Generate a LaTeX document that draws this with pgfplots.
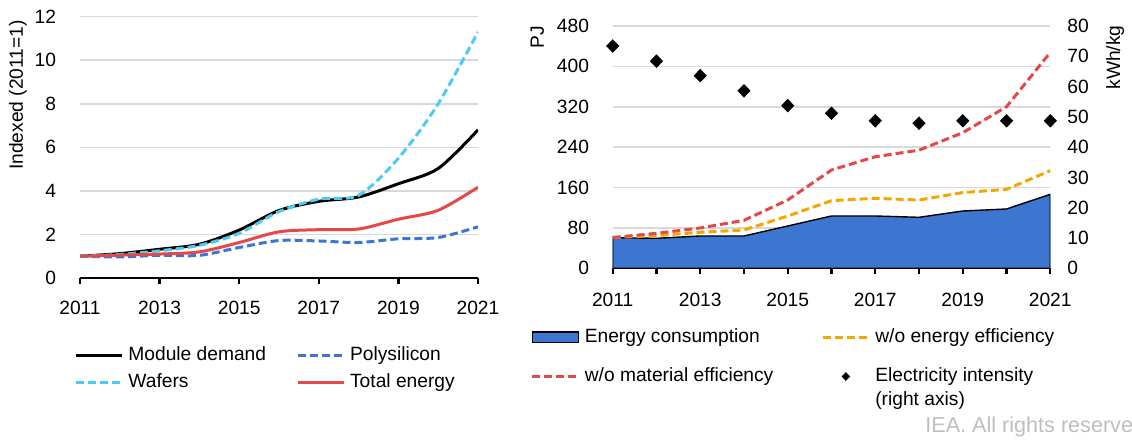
\documentclass[border=0pt]{standalone}
\usepackage{fontspec}
\setmainfont{Liberation Sans}
\usepackage{pgfplots}
\pgfplotsset{compat=1.18}

\definecolor{cPoly}{RGB}{58,118,214}
\definecolor{cWaf}{RGB}{78,203,245}
\definecolor{cRed}{RGB}{228,72,72}
\definecolor{cOrange}{RGB}{242,168,0}
\definecolor{cArea}{RGB}{60,118,208}
\definecolor{cGrid}{RGB}{217,217,217}
\definecolor{cIEA}{RGB}{190,190,190}

\newcommand{\ff}{\fontsize{9.6}{11.5}\selectfont}

\pgfplotsset{
  common/.style={
    scale only axis,
    axis x line*=bottom, axis y line*=left,
    x axis line style={-, line width=1.2pt, black},
    y axis line style={draw=none},
    ytick style={draw=none},
    xtick style={black, line width=1.2pt},
    tick align=outside, major tick length=2.8pt,
    ymajorgrids, grid style={cGrid, line width=0.8pt},
    /pgf/number format/assume math mode=true,
    tick label style={font=\ff},
    xticklabel style={/pgf/number format/1000 sep=, anchor=north, inner sep=0pt},
    yticklabel style={anchor=east, inner sep=0pt},
    legend cell align=left,
    legend image code/.code={\draw[##1] (0pt,0pt) -- (23pt,0pt);},
  },
  arealeg/.style={legend image code/.code={\draw[##1] (0pt,-2.65pt) rectangle (23pt,2.65pt);}},
  diamleg/.style={legend image code/.code={\draw[##1] plot coordinates {(11.5pt,0pt)};}},
  sline/.style={line width=1.5pt},
  dline/.style={line width=1.5pt, dash pattern=on 4pt off 2pt},
}

\begin{document}
\begin{tikzpicture}[font=\ff]
\path[use as bounding box] (0,0) rectangle (566pt,222pt);

% ---------------- left chart ----------------
\begin{axis}[
  common,
  at={(40pt,83pt)}, anchor=south west,
  width=199pt, height=130.65pt,
  xmin=2011, xmax=2021, ymin=0, ymax=12,
  xtick={2011,2013,...,2021}, ytick={0,2,...,12},
  xticklabel style={yshift=-8.7pt},
  yticklabel style={xshift=-9pt},
  every axis y label/.style={at={(rel axis cs:-0.156,0.70)}, anchor=center, rotate=90, font=\ff},
  ylabel={Indexed (2011=1)},
  legend columns=2,
  legend style={at={(rel axis cs:-0.015,-0.26)}, anchor=north west, draw=none, fill=none,
    inner sep=0pt, font=\ff, row sep=4.35pt,
    /tikz/every even column/.append style={column sep=12.5pt},
    nodes={inner xsep=2.5pt, inner ysep=0pt, text height=7pt, text depth=2pt, anchor=west}},
]
\addplot[sline, black, smooth] coordinates {(2011,1.0)(2012,1.12)(2013,1.32)(2014,1.55)(2015,2.2)(2016,3.1)(2017,3.52)(2018,3.72)(2019,4.33)(2020,5.03)(2021,6.8)};
\addlegendentry{Module demand}
\addplot[dline, cPoly, smooth] coordinates {(2011,1.0)(2012,0.97)(2013,1.04)(2014,1.04)(2015,1.4)(2016,1.72)(2017,1.7)(2018,1.63)(2019,1.8)(2020,1.86)(2021,2.35)};
\addlegendentry{Polysilicon}
\addplot[dline, cWaf, smooth] coordinates {(2011,1.0)(2012,1.08)(2013,1.25)(2014,1.5)(2015,2.05)(2016,3.05)(2017,3.62)(2018,3.8)(2019,5.5)(2020,8.0)(2021,11.3)};
\addlegendentry{Wafers}
\addplot[sline, cRed, smooth] coordinates {(2011,1.0)(2012,1.05)(2013,1.1)(2014,1.2)(2015,1.63)(2016,2.12)(2017,2.22)(2018,2.25)(2019,2.7)(2020,3.11)(2021,4.17)};
\addlegendentry{Total energy}
\end{axis}

% ---------------- right chart (left axis) ----------------
\begin{axis}[
  common,
  at={(306.35pt,87.85pt)}, anchor=south west,
  width=218.8pt, height=121.15pt,
  xmin=2011, xmax=2021, ymin=0, ymax=480,
  xtick={2011,2012,...,2021},
  xticklabels={2011,,2013,,2015,,2017,,2019,,2021},
  ytick={0,80,...,480},
  xticklabel style={yshift=-9.5pt},
  yticklabel style={xshift=-8.85pt},
  every axis y label/.style={at={(rel axis cs:-0.172,0.955)}, anchor=center, rotate=90, font=\ff},
  ylabel={PJ},
  legend columns=2,
  legend style={at={(rel axis cs:-0.188,-0.246)}, anchor=north west, draw=none, fill=none,
    inner sep=0pt, font=\ff, row sep=10.6pt,
    /tikz/every even column/.append style={column sep=21.5pt},
    nodes={inner xsep=2.5pt, inner ysep=0pt, text height=7pt, text depth=2pt, anchor=west}},
]
\addplot[fill=cArea, draw=black, line width=0.7pt, arealeg]
  coordinates {(2011,60.7)(2012,59.4)(2013,64)(2014,64)(2015,83.8)(2016,103.6)(2017,103.6)(2018,101)(2019,113.5)(2020,117.5)(2021,146.5)} \closedcycle;
\addlegendentry{Energy consumption}
\addplot[dline, cOrange] coordinates {(2011,61)(2012,64.7)(2013,71.3)(2014,75.9)(2015,103.6)(2016,134)(2017,138.6)(2018,135.3)(2019,150)(2020,156.4)(2021,193.4)};
\addlegendentry{w/o energy efficiency}
\addplot[dline, cRed] coordinates {(2011,61)(2012,69.3)(2013,79.9)(2014,95)(2015,135.3)(2016,194.7)(2017,221)(2018,234)(2019,268.6)(2020,320)(2021,427.7)};
\addlegendentry{w/o material efficiency}
\addlegendimage{only marks, mark=diamond*, black, mark size=1.9pt, mark options={xscale=1.3}, diamleg}
\addlegendentry{\parbox[t]{110pt}{Electricity intensity\\[0.6pt](right axis)}}
\end{axis}

% ---------------- right chart (right axis) ----------------
\begin{axis}[
  scale only axis,
  at={(306.35pt,87.85pt)}, anchor=south west,
  width=218.8pt, height=121.15pt,
  xmin=2011, xmax=2021, ymin=0, ymax=80,
  axis x line=none, axis y line*=right,
  y axis line style={draw=none}, ytick style={draw=none},
  ytick={0,10,...,80},
  /pgf/number format/assume math mode=true,
  tick label style={font=\ff},
  yticklabel style={anchor=west, inner sep=0pt, xshift=8.35pt},
  every axis y label/.style={at={(rel axis cs:1.148,0.870)}, anchor=center, rotate=90, font=\ff},
  ylabel={kWh/kg},
  clip=false,
]
\addplot[only marks, mark=diamond*, mark size=3.15pt, mark options={black, fill=black, line width=0.3pt, xscale=1.3}]
  coordinates {(2011,73.4)(2012,68.4)(2013,63.6)(2014,58.6)(2015,53.7)(2016,51.2)(2017,48.7)(2018,47.9)(2019,48.7)(2020,48.7)(2021,48.7)};
\end{axis}

\node[anchor=west, text=cIEA, font=\fontsize{10.8}{12.5}\selectfont, inner sep=0pt] at (462.5pt,8.65pt) {IEA. All rights reserved};
\end{tikzpicture}
\end{document}
